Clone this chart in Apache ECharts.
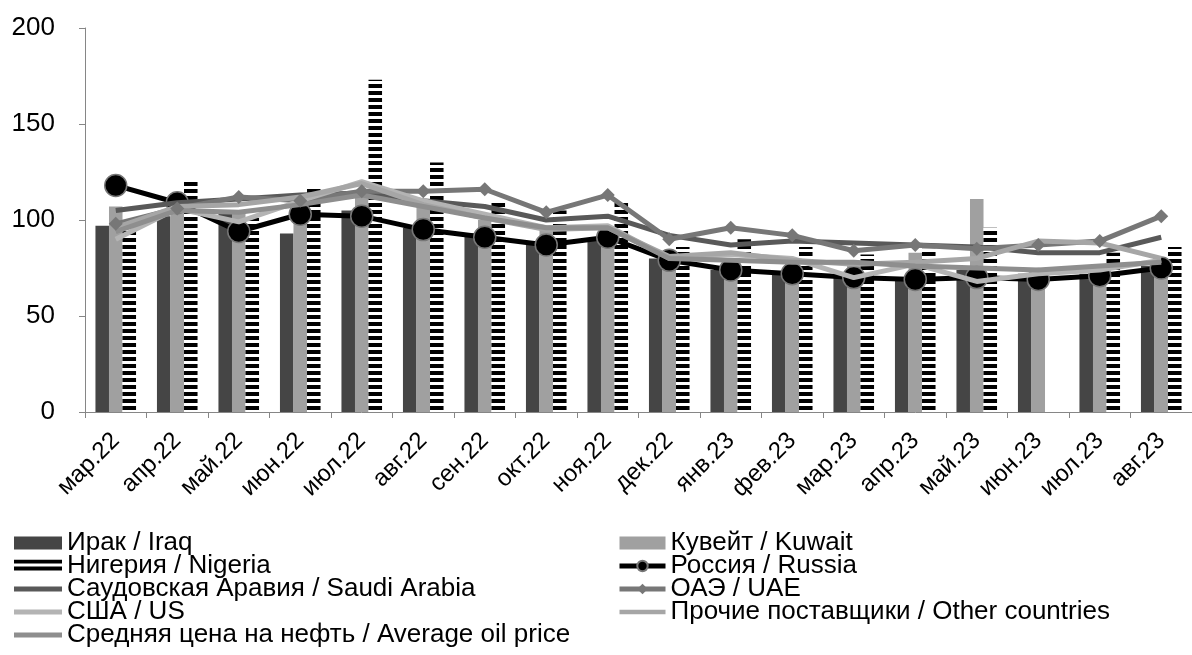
<!DOCTYPE html>
<html>
<head>
<meta charset="utf-8">
<script src="https://cdn.jsdelivr.net/npm/echarts@6/dist/echarts.min.js"></script>
<style>
  html, body { margin: 0; padding: 0; background: #fff; }
  #chart { width: 1192px; height: 655px; }
</style>
</head>
<body>
<div id="chart"></div>
<script>
const categories = ['мар.22', 'апр.22', 'май.22', 'июн.22', 'июл.22', 'авг.22', 'сен.22', 'окт.22', 'ноя.22',
  'дек.22', 'янв.23', 'фев.23', 'мар.23', 'апр.23', 'май.23', 'июн.23', 'июл.23', 'авг.23'];
const yTicks = [0, 50, 100, 150, 200];

const iraq    = [97, 102, 104, 93, 105, 96, 93, 88, 90, 80, 74, 72, 72, 70, 74, 72, 72, 76];
const kuwait  = [107, 110, 104, 110, 113, 107, 100, 95, 95, 82, 78, 77, 78, 83, 111, 75, 73, 78];
const nigeria = [95, 120, 101, 117, 173, 130, 110, 105, 110, 86, 90, 86, 82, 85, 96, 0, 83, 86];
const russia  = [118, 109, 94, 103, 102, 95, 91, 87, 91, 79, 74, 72, 70, 69, 70, 69, 71, 75];
const saudi   = [105, 109, 111, 113, 114, 110, 107, 100, 102, 92, 87, 89, 88, 87, 86, 83, 83, 91];
const uae     = [98, 106, 112, 110, 115, 115, 116, 104, 113, 90, 96, 92, 84, 87, 85, 87, 89, 102];
const us      = [90, 106, 99, 110, 120, 110, 103, 96, 97, 80, 82, 80, 70, 77, 68, 72, 74, 79];
const others  = [96, 107, 108, 112, 119, 108, 101, 95, 96, 81, 83, 79, 77, 78, 80, 89, 88, 80];
const avgPrice = [94, 105, 104, 108, 113, 107, 101, 96, 96, 80, 79, 78, 78, 76, 75, 74, 76, 78];

// horizontal stripes for Nigeria
const stripe = document.createElement('canvas');
stripe.width = 8; stripe.height = 7;
const sctx = stripe.getContext('2d');
sctx.fillStyle = '#fff'; sctx.fillRect(0, 0, 8, 7);
sctx.fillStyle = '#000'; sctx.fillRect(0, 0, 8, 4);

// thick plain line for the legend (tiny corner dots keep the box 13px tall)
const lineIcon = 'path://M0,4H50V9H0Z M0,0H0.01V0.01H0Z M49.99,12.99H50V13H49.99Z';

const font = 'Liberation Sans';
const chart = echarts.init(document.getElementById('chart'));

function lineSeries(name, data, color, extra) {
  return Object.assign({
    name, type: 'line', data,
    symbol: 'none',
    lineStyle: { color, width: 5 },
    itemStyle: { color },
    z: 3
  }, extra || {});
}

const legendText = { fontSize: 26, color: '#000', fontFamily: font };

chart.setOption({
  animation: false,
  textStyle: { fontFamily: font, color: '#000' },
  grid: { left: 85, top: 28, width: 1116, height: 384 },
  legend: [
    {
      orient: 'vertical', left: 14, top: 530, itemGap: -3, padding: 0,
      itemWidth: 48, itemHeight: 13,
      textStyle: legendText,
      data: [
        { name: 'Ирак / Iraq', icon: 'rect' },
        { name: 'Нигерия / Nigeria', icon: 'rect' },
        { name: 'Саудовская Аравия / Saudi Arabia', icon: lineIcon },
        { name: 'США / US', icon: lineIcon },
        { name: 'Средняя цена на нефть / Average oil price', icon: lineIcon }
      ]
    },
    {
      orient: 'vertical', left: 617, top: 530, itemGap: -3, padding: 0,
      itemWidth: 46, itemHeight: 13,
      textStyle: legendText,
      data: [
        { name: 'Кувейт / Kuwait', icon: 'rect' },
        { name: 'Россия / Russia', lineStyle: { width: 5 } },
        { name: 'ОАЭ / UAE', lineStyle: { width: 5 } },
        { name: 'Прочие поставщики / Other countries', icon: lineIcon }
      ]
    }
  ],
  xAxis: {
    type: 'category', data: categories,
    axisLine: { lineStyle: { color: '#868686', width: 1 } },
    axisTick: { show: true, length: 6, lineStyle: { color: '#868686' } },
    axisLabel: { rotate: 45, fontSize: 24, color: '#000', margin: 25, fontFamily: font, interval: 0 }
  },
  yAxis: {
    type: 'value', min: yTicks[0], max: yTicks[yTicks.length - 1], interval: 50,
    axisLine: { show: true, lineStyle: { color: '#868686', width: 1 } },
    axisTick: { show: true, length: 6, lineStyle: { color: '#868686' } },
    splitLine: { show: false },
    axisLabel: { fontSize: 26, color: '#000', margin: 30, fontFamily: font }
  },
  series: [
    { name: 'Ирак / Iraq', type: 'bar', data: iraq, itemStyle: { color: '#454545' },
      barGap: '0%', barCategoryGap: '34%' },
    { name: 'Кувейт / Kuwait', type: 'bar', data: kuwait, itemStyle: { color: '#a0a0a0' } },
    { name: 'Нигерия / Nigeria', type: 'bar', data: nigeria,
      itemStyle: { color: { image: stripe, repeat: 'repeat' } } },
    lineSeries('Саудовская Аравия / Saudi Arabia', saudi, '#595959'),
    lineSeries('ОАЭ / UAE', uae, '#777777', {
      symbol: 'diamond', symbolSize: 14, showSymbol: true
    }),
    lineSeries('США / US', us, '#b4b4b4'),
    lineSeries('Прочие поставщики / Other countries', others, '#a6a6a6'),
    lineSeries('Средняя цена на нефть / Average oil price', avgPrice, '#8e8e8e'),
    lineSeries('Россия / Russia', russia, '#000000', {
      symbol: 'circle', symbolSize: 22, showSymbol: true,
      itemStyle: { color: '#000', borderColor: '#777', borderWidth: 1.5 },
      z: 2
    })
  ]
});
</script>
</body>
</html>
